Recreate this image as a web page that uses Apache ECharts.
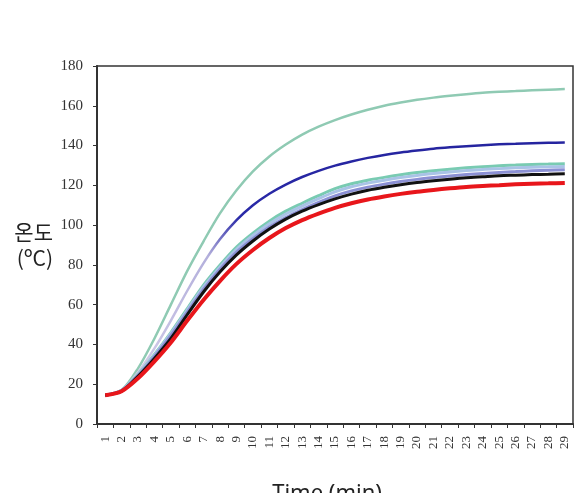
<!DOCTYPE html>
<html>
<head>
<meta charset="utf-8">
<script src="https://cdn.jsdelivr.net/npm/echarts@6/dist/echarts.min.js"></script>
<style>
  html, body { margin: 0; padding: 0; background: #fff; }
  #chart { width: 575px; height: 493px; }
</style>
</head>
<body>
<div id="chart"></div>
<script>
// time axis (min)
const minutes = ['1','2','3','4','5','6','7','8','9','10','11','12','13','14','15',
  '16','17','18','19','20','21','22','23','24','25','26','27','28','29'];

const yTicks = [0, 20, 40, 60, 80, 100, 120, 140, 160, 180];

// temperature curves (°C)
const tealTop = [14.5,17,28,43,60,77,92,106,117.5,127,134.5,140.5,145.5,149.5,152.8,155.6,158,160,161.6,163,164.1,165,165.8,166.5,167,167.4,167.8,168.1,168.4];
const blue = [14.5,17,26,38,52,67,81,93,102.5,110,115.8,120.4,124.2,127.3,129.9,132,133.8,135.3,136.5,137.5,138.4,139.1,139.7,140.2,140.6,140.9,141.2,141.4,141.5];
const teal2 = [14.5,17,25,35,46,58,70,80,89,96,102,107,111,114.8,118.3,120.8,122.6,124,125.3,126.4,127.3,128.1,128.8,129.4,129.9,130.2,130.5,130.7,130.9];
const lightBlue = [14.5,17,24.8,34.6,45.5,57.3,69,79,87.8,94.8,100.7,105.6,109.6,113.3,116.7,119.3,121.1,122.6,123.9,125,125.9,126.7,127.4,128,128.4,128.8,129.1,129.3,129.5];
const periwinkle = [14.5,16.8,24.4,34,44.6,56.2,67.8,77.8,86.4,93.2,99,103.8,107.8,111.4,114.7,117.2,119.1,120.6,121.9,123,123.9,124.7,125.4,126,126.5,126.9,127.3,127.6,127.8];
const black = [14.5,16.5,24,33,43,55,66.5,76.5,85,92,98,103,107,110.3,113.2,115.6,117.5,119,120.3,121.4,122.3,123.1,123.8,124.3,124.8,125.1,125.4,125.6,125.8];
const red = [14.5,16.5,23,31.5,41,52,62.5,72,80.5,87.5,93.5,98.5,102.5,105.8,108.7,111,112.9,114.4,115.7,116.8,117.7,118.5,119.2,119.7,120.1,120.5,120.8,121,121.2];

const chart = echarts.init(document.getElementById('chart'));

function line(name, data, color, width) {
  return {
    name: name,
    type: 'line',
    data: data,
    smooth: 0.3,
    showSymbol: false,
    lineStyle: { color: color, width: width },
    itemStyle: { color: color },
    animation: false
  };
}

const blueFade = new echarts.graphic.LinearGradient(0, 0, 0, 1, [
  { offset: 0, color: '#25249f' },
  { offset: 0.3, color: '#2a2aa8' },
  { offset: 0.45, color: '#b4b0dc' },
  { offset: 1, color: '#d6d0ea' }
]);

chart.setOption({
  backgroundColor: '#fff',
  grid: {
    left: 97, top: 66, right: 2, bottom: 69,
    outerBoundsMode: 'none',
    containLabel: false,
    show: true, borderColor: '#333', borderWidth: 1.5
  },
  xAxis: {
    type: 'category',
    data: minutes,
    boundaryGap: true,
    name: 'Time (min)',
    nameLocation: 'middle',
    nameGap: 59,
    nameTextStyle: { fontFamily: 'Noto Sans', fontSize: 22, color: '#222', verticalAlign: 'top', padding: [0, 16, 0, 0] },
    axisLine: { lineStyle: { color: '#333', width: 2 } },
    axisTick: { show: true, length: 4, lineStyle: { color: '#333' } },
    axisLabel: {
      rotate: 90, interval: 0, margin: 12,
      fontFamily: 'Liberation Serif', fontSize: 13, color: '#333'
    },
    splitLine: { show: false }
  },
  yAxis: {
    type: 'value',
    min: 0, max: 180, interval: 20,
    name: '온도\n(ºC)',
    nameLocation: 'middle',
    nameRotate: 0,
    nameGap: 44,
    nameTextStyle: {
      fontFamily: 'Noto Sans CJK KR', fontSize: 21, lineHeight: 26,
      color: '#222', align: 'right'
    },
    axisLine: { show: true, lineStyle: { color: '#333', width: 2 } },
    axisTick: { show: true, length: 4, lineStyle: { color: '#333' } },
    axisLabel: {
      margin: 14, fontFamily: 'Liberation Serif', fontSize: 15, color: '#333',
      formatter: function (v) { return yTicks.indexOf(v) >= 0 ? String(v) : ''; }
    },
    splitLine: { show: false }
  },
  series: [
    line('tealTop', tealTop, '#8fcab3', 2.5),
    Object.assign(line('blue', blue, '#2a2aa8', 2.5), { lineStyle: { color: blueFade, width: 2.5 } }),
    line('teal2', teal2, '#79cbb2', 3),
    line('lightBlue', lightBlue, '#a9c3e6', 3),
    line('periwinkle', periwinkle, '#8b90d4', 3),
    line('black', black, '#111111', 3),
    line('red', red, '#e8161b', 4)
  ]
});
</script>
</body>
</html>
